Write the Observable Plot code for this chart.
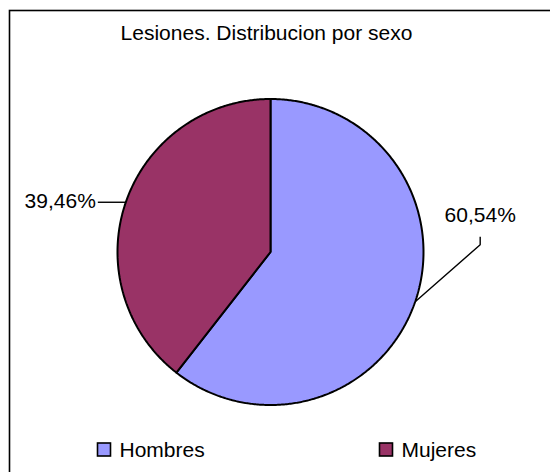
<!DOCTYPE html>
<html>
<head>
<meta charset="utf-8">
<script src="https://cdn.jsdelivr.net/npm/d3@7"></script>
<script src="https://cdn.jsdelivr.net/npm/@observablehq/plot@0.6"></script>
<style>
  html, body { margin: 0; padding: 0; background: white; overflow: hidden; }
  #chart svg { display: block; font-family: "Liberation Sans", Arial, sans-serif; }
</style>
</head>
<body>
<div id="chart"></div>
<script>
const title = "Lesiones. Distribucion por sexo";
const names = ["Hombres", "Mujeres"];
const values = [60.54, 39.46];
const labels = ["60,54%", "39,46%"];
const colors = ["#9999FF", "#993366"];

// layout (pixels)
const W = 550, H = 472;
const cx = 270, cy = 251.5, R = 153;
const fontSize = 21;

const slices = d3.pie().sort(null).value(d => d)(values)
  .map((p, i) => ({...p, name: names[i], label: labels[i]}));

const piePts = slices.flatMap(s => {
  const pts = [{name: s.name, x: cx, y: cy}];
  const n = Math.ceil((s.endAngle - s.startAngle) / (Math.PI / 360));
  for (let k = 0; k <= n; k++) {
    const a = s.startAngle + (s.endAngle - s.startAngle) * k / n;
    pts.push({name: s.name, x: cx + R * Math.sin(a), y: cy - R * Math.cos(a)});
  }
  return pts;
});

const leaderPts = [];
const labelPts = [];
slices.forEach(s => {
  const m = (s.startAngle + s.endAngle) / 2;
  const ex = cx + R * Math.sin(m), ey = cy - R * Math.cos(m);
  if (Math.sin(m) > 0) {
    const bx = ex + 65, by = ey - 57;
    leaderPts.push({name: s.name, x: ex, y: ey}, {name: s.name, x: bx, y: by}, {name: s.name, x: bx, y: by - 8});
    labelPts.push({text: s.label, x: bx, y: by - 29, anchor: "middle"});
  } else {
    const bx = ex - 28;
    leaderPts.push({name: s.name, x: ex, y: ey}, {name: s.name, x: bx, y: ey});
    labelPts.push({text: s.label, x: bx - 2, y: ey - 1, anchor: "end"});
  }
});

const legendX0 = 104, legendDX = 282, legendY = 449.5, sw = 13;
const legend = names.map((n, i) => ({name: n, x: legendX0 + i * legendDX, y: legendY}));

const chart = Plot.plot({
  width: W, height: H, margin: 0,
  style: {fontFamily: "Liberation Sans, Arial, sans-serif", fontSize: fontSize + "px", background: "white"},
  x: {domain: [0, W], range: [0, W], axis: null},
  y: {domain: [0, H], range: [0, H], axis: null},
  color: {domain: names, range: colors},
  marks: [
    Plot.frame({stroke: "black", strokeWidth: 1.6, insetLeft: 9, insetTop: 10, insetRight: -4, insetBottom: -4}),
    Plot.text([title], {frameAnchor: "top-left", dx: 266, dy: 33, text: d => d, textAnchor: "middle", lineAnchor: "middle", fontSize: fontSize, fill: "black"}),
    Plot.line(piePts, {x: "x", y: "y", z: "name", fill: "name", stroke: "black", strokeWidth: 2, curve: "linear-closed", strokeLinejoin: "miter"}),
    Plot.line(leaderPts, {x: "x", y: "y", z: "name", stroke: "black", strokeWidth: 1.4, strokeLinecap: "butt", strokeLinejoin: "miter"}),
    Plot.text(labelPts.filter(d => d.anchor === "middle"), {x: "x", y: "y", text: "text", textAnchor: "middle", lineAnchor: "middle", fontSize: fontSize, fill: "black"}),
    Plot.text(labelPts.filter(d => d.anchor === "end"), {x: "x", y: "y", text: "text", textAnchor: "end", lineAnchor: "middle", fontSize: fontSize, fill: "black"}),
    Plot.rect(legend, {x1: d => d.x - sw / 2, x2: d => d.x + sw / 2, y1: d => d.y - sw / 2, y2: d => d.y + sw / 2, fill: "name", stroke: "black", strokeWidth: 1.6}),
    Plot.text(legend, {x: d => d.x + 15, y: "y", text: "name", textAnchor: "start", lineAnchor: "middle", fontSize: fontSize, fill: "black"})
  ]
});
document.getElementById("chart").append(chart);
</script>
</body>
</html>
